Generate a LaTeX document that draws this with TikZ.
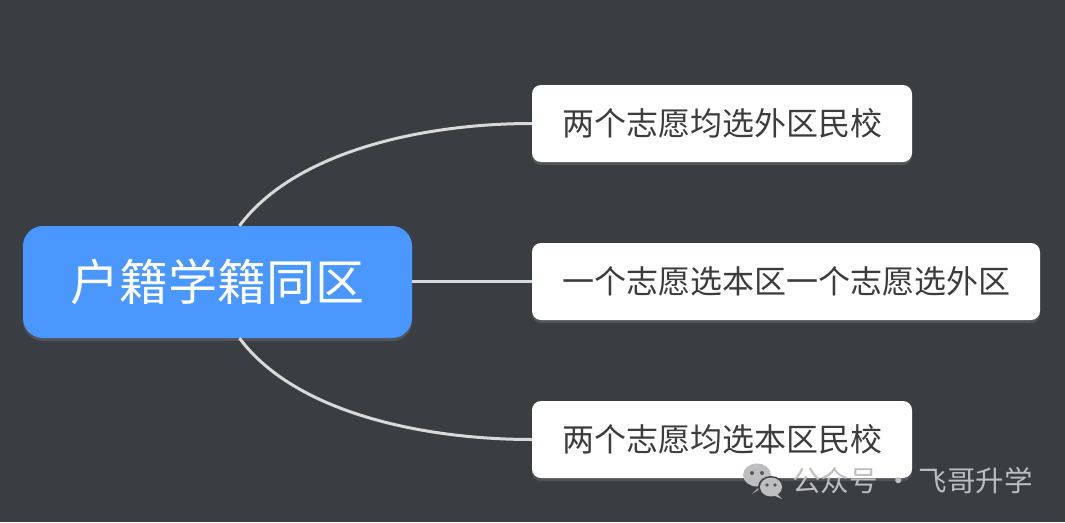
\documentclass[tikz,border=0pt]{standalone}
\usepackage{fontspec}
\newfontfamily\cjk{Noto Sans CJK SC}
\usetikzlibrary{shadows}
\definecolor{bgc}{RGB}{58,61,66}
\definecolor{rootblue}{RGB}{74,151,255}
\definecolor{linec}{RGB}{217,217,217}
\definecolor{txtc}{RGB}{60,60,60}
\definecolor{wmc}{RGB}{190,190,192}
\tikzset{
  rootbox/.style={fill=rootblue, rounded corners=20pt, minimum width=389pt, minimum height=112pt,
    text=white, font=\cjk\fontsize{49}{49}\selectfont, inner sep=0pt,
    drop shadow={opacity=0.35, shadow xshift=0pt, shadow yshift=-3pt}},
  childbox/.style={fill=white, rounded corners=9pt, minimum height=77pt, inner sep=0pt,
    text=txtc, font=\cjk\fontsize{32}{32}\selectfont,
    drop shadow={opacity=0.35, shadow xshift=0pt, shadow yshift=-3pt}},
  conn/.style={draw=linec, line width=3pt},
  wm/.style={text=wmc, font=\cjk\fontsize{28.5}{28.5}\selectfont, inner sep=0pt}
}
\begin{document}
\begin{tikzpicture}[x=1pt,y=-1pt]
\fill[bgc] (0,0) rectangle (1065,522);
\useasboundingbox (0,0) rectangle (1065,522);
\node[rootbox] (root) at (217.5,282) {户籍学籍同区};
\node[childbox, minimum width=380pt] (top) at (722,123.5) {两个志愿均选外区民校};
\node[childbox, minimum width=508pt] (mid) at (786,281.5) {一个志愿选本区一个志愿选外区};
\node[childbox, minimum width=380pt] (bot) at (722,439.5) {两个志愿均选本区民校};
\draw[conn] ([xshift=22pt]root.north) .. controls +(55,-74) and +(-110,0) .. (top.west);
\draw[conn] (root.east |- mid.west) -- (mid.west);
\draw[conn] ([xshift=22pt]root.south) .. controls +(55,74) and +(-110,0) .. (bot.west);
% watermark
\node[wm, anchor=west] (wmtext) at (792,481) {公众号 · 飞哥升学};
\fill[wmc] (757,475) ellipse (14pt and 11.5pt);
\fill[wmc] (758,488) -- (752,494) -- (764,486) -- cycle;
\fill[bgc] (771,487) ellipse (13pt and 11pt);
\fill[wmc] (771,487) ellipse (11pt and 9.5pt);
\fill[wmc] (777,494) -- (782,499) -- (773,495) -- cycle;
\fill[bgc!80!wmc] (752,473) circle (2pt) (762,473) circle (2pt);
\fill[bgc!80!wmc] (767,485) circle (1.8pt) (775,485) circle (1.8pt);
\end{tikzpicture}
\end{document}
